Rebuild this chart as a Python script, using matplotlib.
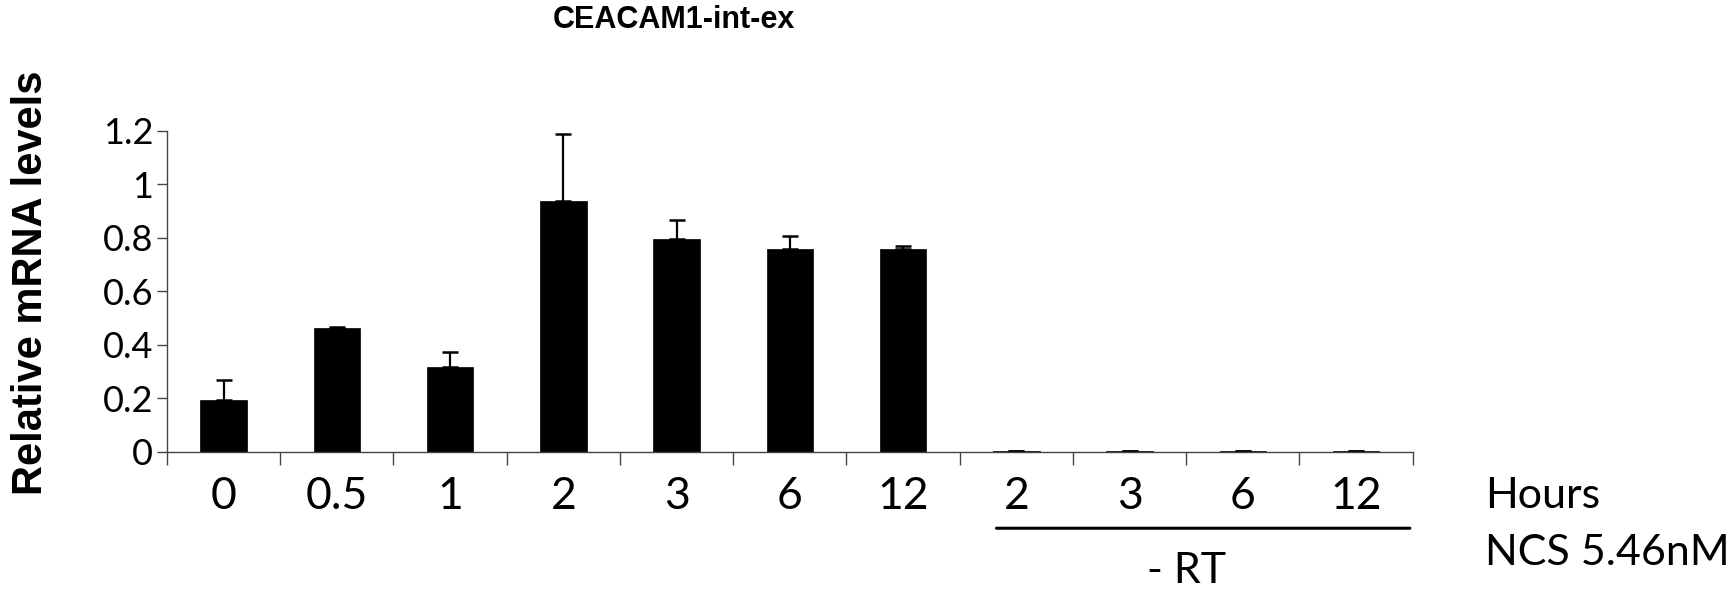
import numpy as np
import matplotlib
matplotlib.use("Agg")
import matplotlib.pyplot as plt

# data
hours = ['0', '0.5', '1', '2', '3', '6', '12', '2', '3', '6', '12']
levels = [0.194, 0.462, 0.318, 0.940, 0.796, 0.759, 0.759, 0.002, 0.002, 0.002, 0.002]
err_up = [0.074, 0.006, 0.057, 0.250, 0.070, 0.049, 0.011, 0.0, 0.0, 0.0, 0.0]
yticks = [0, 0.2, 0.4, 0.6, 0.8, 1, 1.2]
ytick_labels = ['0', '0.2', '0.4', '0.6', '0.8', '1', '1.2']

lbl_font = ['Lato', 'DejaVu Sans']

fig = plt.figure(figsize=(17.27, 5.89), dpi=100)
ax = fig.add_axes([0.0967, 0.2326, 0.7213, 0.545])

x = np.arange(len(levels)) + 0.5
ax.bar(x, levels, width=0.41, color='black', edgecolor='black', linewidth=0.5)
lower = np.zeros(len(err_up))
ax.errorbar(x, levels, yerr=[lower, err_up], fmt='none', ecolor='black',
            elinewidth=1.6, capsize=6, capthick=1.8)

ax.set_xlim(0, len(levels))
ax.set_ylim(0, 1.2)
ax.spines['top'].set_visible(False)
ax.spines['right'].set_visible(False)
for s in ('left', 'bottom'):
    ax.spines[s].set_color('#444444')
    ax.spines[s].set_linewidth(1.0)

ax.set_yticks(yticks)
ax.set_yticklabels(ytick_labels, family=lbl_font, fontsize=26)
ax.tick_params(axis='y', length=7, width=1, color='#444444', pad=3)

# category boundaries as major ticks, labels on minor ticks
ax.set_xticks(np.arange(len(levels) + 1))
ax.set_xticklabels([])
ax.tick_params(axis='x', which='major', length=9, width=1, color='#444444')
ax.set_xticks(x, minor=True)
ax.set_xticklabels(hours, minor=True, family=lbl_font, fontsize=32)
ax.tick_params(axis='x', which='minor', length=0, pad=17)

# y label placed by hand, it sits further out than labelpad gives
fig.text(31 / 1727, 1 - 283 / 589, 'Relative mRNA levels', rotation=90,
         ha='center', va='center', fontsize=30, fontweight='bold',
         family='Liberation Sans')

fig.text(0.390, 0.966, 'CEACAM1-int-ex', ha='center', va='center',
         fontsize=22, fontweight='bold', family='Liberation Sans')

fig.text(1348 * 1.1014 / 1727, 1 - 496 / 589, 'Hours', ha='left', va='center',
         fontsize=31, family=lbl_font)
fig.text(1348 * 1.1014 / 1727, 1 - 553 / 589, 'NCS 5.46nM', ha='left', va='center',
         fontsize=31, family=lbl_font)

# -RT bracket line under the last four groups
ax.annotate('', xy=(7.3, -0.285), xytext=(11.0, -0.285), xycoords='data',
            arrowprops=dict(arrowstyle='-', color='black', linewidth=2.2),
            annotation_clip=False)
ax.text(9.0, -0.445, '- RT', ha='center', va='center', fontsize=31,
        family=lbl_font, clip_on=False)

fig.savefig('out.png', dpi=100)
